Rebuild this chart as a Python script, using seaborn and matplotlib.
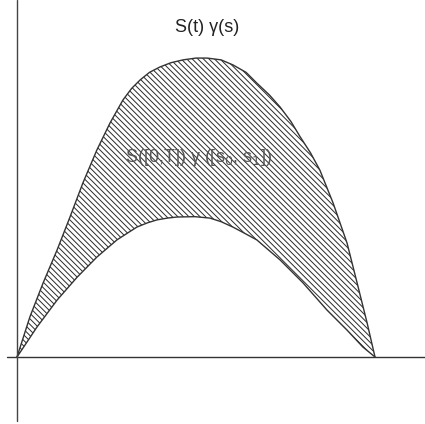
import numpy as np
import pandas as pd
import seaborn as sns
import matplotlib
matplotlib.use("Agg")
import matplotlib.pyplot as plt

# Curve samples (x: time, y: value)
upper_x = [0.00, 0.36, 0.73, 1.12, 1.48, 1.84, 2.23, 2.60, 2.96, 3.20, 3.44, 3.70, 3.99,
           4.30, 4.64, 5.00, 5.31, 5.70, 6.03, 6.40, 6.70, 7.05, 7.35, 7.65, 7.91,
           8.20, 8.46, 8.83, 9.22, 9.50, 9.78, 10.00]
upper_y = [0.00, 1.12, 2.07, 2.99, 3.91, 4.86, 5.78, 6.54, 7.18, 7.50, 7.74, 7.95, 8.10,
           8.22, 8.30, 8.35, 8.35, 8.30, 8.16, 7.95, 7.65, 7.32, 6.98, 6.58, 6.15,
           5.70, 5.22, 4.30, 3.18, 2.07, 0.95, 0.00]

lower_x = [0.00, 0.56, 1.12, 1.68, 2.23, 2.79, 3.10, 3.35, 3.65, 3.91, 4.20, 4.47, 4.97,
           5.39, 5.70, 6.03, 6.35, 6.70, 7.35, 7.99, 8.66, 9.22, 9.66, 10.00]
lower_y = [0.00, 0.84, 1.59, 2.23, 2.79, 3.27, 3.47, 3.63, 3.75, 3.83, 3.88, 3.91, 3.92,
           3.88, 3.78, 3.63, 3.46, 3.27, 2.71, 2.07, 1.31, 0.75, 0.28, 0.00]

title_text = "S(t) \u03b3(s)"
region_text = "S([0,T]) \u03b3 ([s$_0$, s$_1$])"

sns.set_style("white")
plt.rcParams['font.family'] = ['Liberation Sans', 'DejaVu Sans']
plt.rcParams['hatch.linewidth'] = 0.7

fig = plt.figure(figsize=(4.25, 4.24), dpi=100)
ax = fig.add_axes([0, 0, 1, 1])
ax.set_xlim(-17 / 35.8, 408 / 35.8)
ax.set_ylim(-67 / 35.8, 357 / 35.8)
ax.axis('off')

# Hatched region between the two curves
poly_x = upper_x + lower_x[::-1]
poly_y = upper_y + lower_y[::-1]
ax.fill(poly_x, poly_y, facecolor='none', edgecolor='#2a2a2a', linewidth=0,
        hatch='\\' * 6)

df_up = pd.DataFrame({'t': upper_x, 'v': upper_y})
df_lo = pd.DataFrame({'t': lower_x, 'v': lower_y})
sns.lineplot(data=df_up, x='t', y='v', sort=False, estimator=None,
             color='#333333', linewidth=1.0, ax=ax)
sns.lineplot(data=df_lo, x='t', y='v', sort=False, estimator=None,
             color='#333333', linewidth=1.0, ax=ax)

# Coordinate axes
ax.plot([-10 / 35.8, 408 / 35.8], [0, 0], color='#333333', lw=1.0)
ax.plot([0, 0], [-64 / 35.8, 357 / 35.8], color='#444444', lw=1.0)

ax.text(190 / 35.8, 330 / 35.8, title_text, ha='center', va='center',
        fontsize=13, color='#222222')
ax.text(182 / 35.8, 199 / 35.8, region_text, ha='center', va='center',
        fontsize=13, color='#555555')

fig.savefig('out.png', dpi=100, facecolor='white')
